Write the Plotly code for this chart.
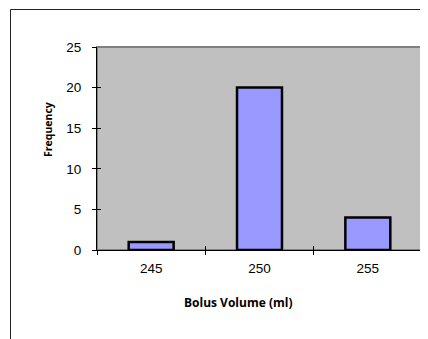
import plotly.graph_objects as go

categories = ["245", "250", "255"]
frequency = [1, 20, 4]
y_ticks = [0, 5, 10, 15, 20, 25]

OFF = 8  # browser default body margin
W, H = 428 - OFF, 339 - OFF
L, R, T, B = 97 - OFF, 6, 47 - OFF, 89
pw, ph = W - L - R, H - T - B

def px_x(x):
    return (x - OFF - L) / pw

def px_y(y):
    return (H - B - (y - OFF)) / ph

fig = go.Figure()
fig.add_trace(go.Bar(
    x=categories, y=frequency,
    marker=dict(color="#9999FF", line=dict(color="black", width=2.5)),
    hoverinfo="skip", showlegend=False,
))
# invisible trace to carry overlay axes (for crossing ticks)
fig.add_trace(go.Bar(
    x=categories, y=frequency, xaxis="x2", yaxis="y2",
    marker=dict(color="rgba(0,0,0,0)", line=dict(width=0)),
    hoverinfo="skip", showlegend=False,
))

font_ticks = dict(family="Liberation Sans, Arial", size=13.5, color="black")

fig.update_layout(
    template="none",
    width=W, height=H,
    margin=dict(l=L, r=R, t=T, b=B, pad=0),
    paper_bgcolor="white",
    plot_bgcolor="#C0C0C0",
    bargap=0.585,
    xaxis=dict(type="category", categoryarray=categories, range=[-0.5, 2.5],
               tickson="boundaries", ticks="outside", ticklen=4, tickcolor="black",
               showline=True, linecolor="black", linewidth=1, showgrid=False,
               tickfont=font_ticks, zeroline=False, fixedrange=True,
               ticklabelstandoff=6),
    yaxis=dict(range=[0, 25], tickvals=y_ticks, ticks="outside", ticklen=4,
               tickcolor="black", showline=True, linecolor="black", linewidth=1,
               showgrid=False, zeroline=False, tickfont=font_ticks,
               ticklabelstandoff=8, fixedrange=True),
    xaxis2=dict(type="category", categoryarray=categories, range=[-0.5, 2.5],
                overlaying="x", tickson="boundaries", ticks="inside", ticklen=4,
                tickcolor="black", showticklabels=False, showgrid=False,
                showline=False, zeroline=False, fixedrange=True),
    yaxis2=dict(range=[0, 25], tickvals=y_ticks, overlaying="y", ticks="inside",
                ticklen=4, tickcolor="black", showticklabels=False, showgrid=False,
                showline=False, zeroline=False, fixedrange=True),
    shapes=[
        dict(type="rect", xref="paper", yref="paper", x0=0, x1=1, y0=0, y1=1,
             line=dict(color="#808080", width=2), layer="below"),
        dict(type="line", xref="paper", yref="paper",
             x0=px_x(10.5), x1=px_x(10.5), y0=px_y(9.5), y1=px_y(345),
             line=dict(color="#222222", width=1)),
        dict(type="line", xref="paper", yref="paper",
             x0=px_x(10.5), x1=px_x(435), y0=px_y(9.5), y1=px_y(9.5),
             line=dict(color="#222222", width=1)),
    ],
    annotations=[
        dict(text="<b>Frequency</b>", xref="paper", yref="paper",
             x=px_x(48), y=px_y(130), textangle=-90, showarrow=False,
             font=dict(family="Open Sans", size=10.5, color="black"),
             xanchor="center", yanchor="middle"),
        dict(text="<b>Bolus Volume (ml)</b>", xref="paper", yref="paper",
             x=px_x(238), y=px_y(302), showarrow=False,
             font=dict(family="Open Sans", size=12, color="black"),
             xanchor="center", yanchor="middle"),
    ],
)

fig.write_html("out.html")
